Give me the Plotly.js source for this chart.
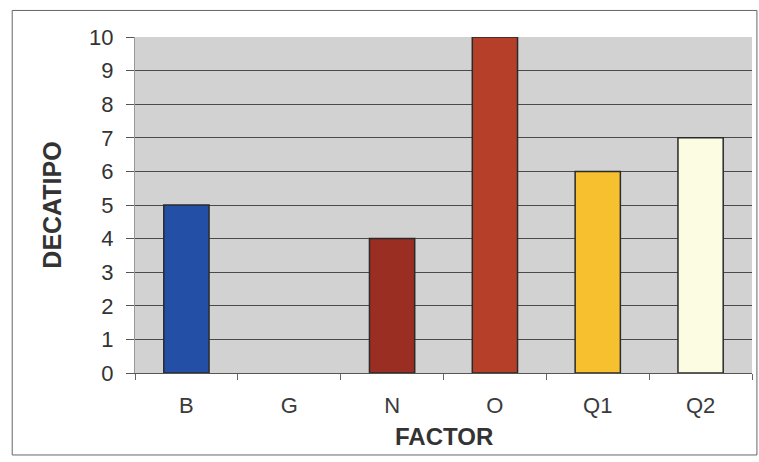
<!DOCTYPE html>
<html>
<head>
<meta charset="utf-8">
<script src="https://cdn.plot.ly/plotly-3.0.1.min.js"></script>
<style>html,body{margin:0;padding:0;background:#fff}#chart{width:759px;height:462px}</style>
</head>
<body>
<div id="chart"></div>
<script>
var categories = ["B", "G", "N", "O", "Q1", "Q2"];
var decatipo = [5, 0, 4, 10, 6, 7];
var barColors = ["#2350a6", "#d0d0d0", "#9a2e22", "#b63f2a", "#f6c02e", "#fcfce2"];
var yTicks = [0, 1, 2, 3, 4, 5, 6, 7, 8, 9, 10];
var xTitle = "FACTOR";
var yTitle = "DECATIPO";

var trace = {
  type: "bar",
  x: categories,
  y: decatipo,
  width: 0.44,
  marker: {color: barColors, line: {color: "#2a2a2a", width: decatipo.map(function(v){return v > 0 ? 1.5 : 0;})}},
  hoverinfo: "x+y"
};

var layout = {
  width: 759, height: 462,
  margin: {l: 135, r: 7, t: 37, b: 89},
  paper_bgcolor: "#ffffff",
  plot_bgcolor: "#d2d2d2",
  font: {family: "Liberation Sans, Arial, sans-serif", color: "#333"},
  showlegend: false,
  xaxis: {
    type: "category",
    showgrid: false,
    ticks: "outside", ticklen: 6, tickcolor: "#666",
    tickson: "boundaries",
    showline: true, linecolor: "#555", linewidth: 1,
    ticklabelstandoff: 13,
    tickfont: {size: 22, color: "#3a3a3a"}
  },
  yaxis: {
    range: [0, 10],
    tickvals: yTicks,
    showgrid: true, gridcolor: "#4a4a4a", gridwidth: 1,
    zeroline: false,
    ticks: "outside", ticklen: 8, tickcolor: "#555",
    showline: true, linecolor: "#999", linewidth: 1,
    ticklabelstandoff: 8,
    tickfont: {size: 22, color: "#333"},
    title: {text: "<b>" + yTitle + "</b>", font: {size: 25, color: "#333"}, standoff: 20}
  },
  annotations: [
    {text: "<b>" + xTitle + "</b>", xref: "paper", yref: "paper", x: 0.5, y: -0.19,
     xanchor: "center", yanchor: "middle", showarrow: false, borderpad: 0, font: {size: 24, color: "#333"}}
  ],
  shapes: [
    {type: "rect", xref: "paper", yref: "paper", x0: -0.199, x1: 1.008, y0: -0.244, y1: 1.079,
     line: {color: "#666", width: 1}, fillcolor: "rgba(0,0,0,0)", layer: "below"}
  ]
};

Plotly.newPlot("chart", [trace], layout, {displayModeBar: false, staticPlot: true});
</script>
</body>
</html>
